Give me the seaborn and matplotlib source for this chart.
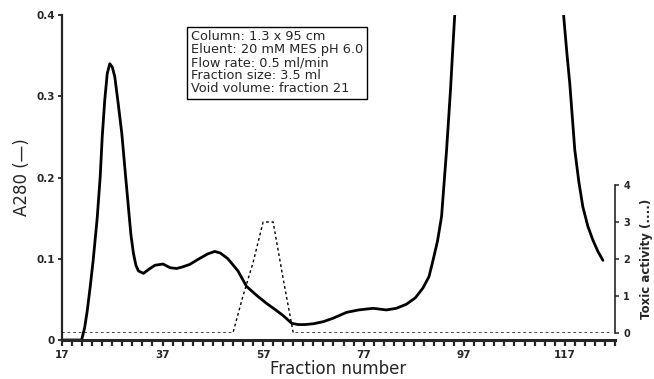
import matplotlib
matplotlib.use('Agg')
import matplotlib.pyplot as plt
import numpy as np
import pandas as pd
import seaborn as sns

# A280 trace (two pieces, the big peak at 95-117 runs off the top)
a280_frac_1 = [17, 19, 20.9, 21.5, 22, 22.6, 23.2, 24.0, 24.6, 25.0, 25.5, 26.0, 26.5, 27.0, 27.5,
               28.2, 28.9, 29.6, 30.2, 30.7, 31.2, 31.7, 32.2, 33.2, 34.5, 35.5, 37.1, 38.5, 39.8,
               41, 42.4, 44, 46, 47.4, 48.5, 50, 52, 53.7, 55.7, 57.7, 59.5, 61, 62.7, 64, 65.3,
               67, 69, 71, 73.6, 76, 78.9, 81.5, 83.5, 85.5, 87.3, 88.8, 90, 90.8, 91.7, 92.5,
               93.5, 94.3, 94.7, 95.1, 95.6]
a280_val_1 = [0, 0, 0, 0.015, 0.035, 0.065, 0.098, 0.15, 0.201, 0.25, 0.295, 0.328, 0.34, 0.336, 0.324,
              0.29, 0.254, 0.205, 0.164, 0.13, 0.107, 0.092, 0.085, 0.082, 0.088, 0.092, 0.0935, 0.089, 0.088,
              0.09, 0.093, 0.099, 0.106, 0.109, 0.107, 0.1, 0.085, 0.066, 0.055, 0.045, 0.037, 0.03, 0.0205, 0.019, 0.019,
              0.02, 0.0226, 0.027, 0.034, 0.037, 0.039, 0.037, 0.039, 0.044, 0.052, 0.064, 0.078, 0.098, 0.122, 0.152,
              0.234, 0.31, 0.355, 0.398, 0.45]
a280_frac_2 = [116.4, 116.8, 117.4, 118, 118.5, 119, 119.8, 120.6, 121.6, 122.6, 123.6, 124.6]
a280_val_2 = [0.45, 0.398, 0.355, 0.316, 0.275, 0.234, 0.195, 0.164, 0.14, 0.123, 0.109, 0.098]

# toxic activity (dotted)
tox_frac = [17, 51, 53, 55, 57, 59, 61, 63, 126.5]
tox_val = [0, 0, 1.0, 1.9, 3, 3, 1.46, 0, 0]

x_major = [17, 37, 57, 77, 97, 117]
y_left_ticks = [0, 0.1, 0.2, 0.3, 0.4]
y_left_labels = ['0', '0.1', '0.2', '0.3', '0.4']
y_right_ticks = [0, 1, 2, 3, 4]

info_lines = ['Column: 1.3 x 95 cm',
              'Eluent: 20 mM MES pH 6.0',
              'Flow rate: 0.5 ml/min',
              'Fraction size: 3.5 ml',
              'Void volume: fraction 21']

sns.set_style('ticks')
plt.rcParams['font.family'] = ['DejaVu Sans']

df_a280 = pd.concat([
    pd.DataFrame({'fraction': a280_frac_1, 'A280': a280_val_1, 'seg': 1}),
    pd.DataFrame({'fraction': a280_frac_2, 'A280': a280_val_2, 'seg': 2}),
], ignore_index=True)
df_tox = pd.DataFrame({'fraction': tox_frac, 'toxic': tox_val})

fig = plt.figure(figsize=(6.54, 3.79), dpi=100)
ax = fig.add_axes([62 / 654, 1 - 340 / 379, 553 / 654, 325 / 379])
ax2 = fig.add_axes([62 / 654, 1 - 333 / 379, 553 / 654, 148 / 379])

sns.lineplot(data=df_a280, x='fraction', y='A280', units='seg', estimator=None,
             color='black', linewidth=2.0, ax=ax)
sns.lineplot(data=df_tox, x='fraction', y='toxic', color='black', linewidth=1.0,
             linestyle=(0, (2, 2)), ax=ax2)

ax.set_xlim(17, 127)
ax.set_ylim(0, 0.4)
ax2.set_xlim(17, 127)
ax2.set_ylim(0, 4)

# main axes
for s in ['top', 'right']:
    ax.spines[s].set_visible(False)
ax.spines['bottom'].set_linewidth(2.2)
ax.spines['left'].set_linewidth(1.6)
ax.set_xticks(x_major)
ax.set_xticklabels([str(v) for v in x_major], fontsize=7.5, fontweight='bold')
ax.set_xticks(list(range(17, 128, 2)), minor=True)
ax.tick_params(axis='x', which='both', direction='out', length=4, width=1.6, pad=3)
ax.set_yticks(y_left_ticks)
ax.set_yticklabels(y_left_labels, fontsize=7.5, fontweight='bold')
ax.tick_params(axis='y', direction='out', length=3, width=1.3, pad=2)
ax.set_xlabel('Fraction number', fontsize=12, labelpad=0)
ax.set_ylabel('A280 (—)', fontsize=12, labelpad=4)

# toxic activity axis on the right
ax2.patch.set_alpha(0)
for s in ['top', 'left', 'bottom']:
    ax2.spines[s].set_visible(False)
ax2.spines['right'].set_linewidth(1.2)
ax2.set_xticks([])
ax2.set_xlabel('')
ax2.yaxis.tick_right()
ax2.yaxis.set_label_position('right')
ax2.set_yticks(y_right_ticks)
ax2.set_yticklabels([str(v) for v in y_right_ticks], fontsize=7, fontweight='bold')
ax2.tick_params(axis='y', direction='out', length=3, width=1.1, pad=3)
ax2.set_ylabel('Toxic activity (....)', fontsize=8.5, fontweight='bold', labelpad=7)

ax.text(42.6, 0.381, '\n'.join(info_lines), fontsize=9.3, va='top', ha='left',
        linespacing=1.0,
        bbox=dict(boxstyle='square,pad=0.3', facecolor='white', edgecolor='black', linewidth=1))

fig.savefig('out.png', dpi=100)
